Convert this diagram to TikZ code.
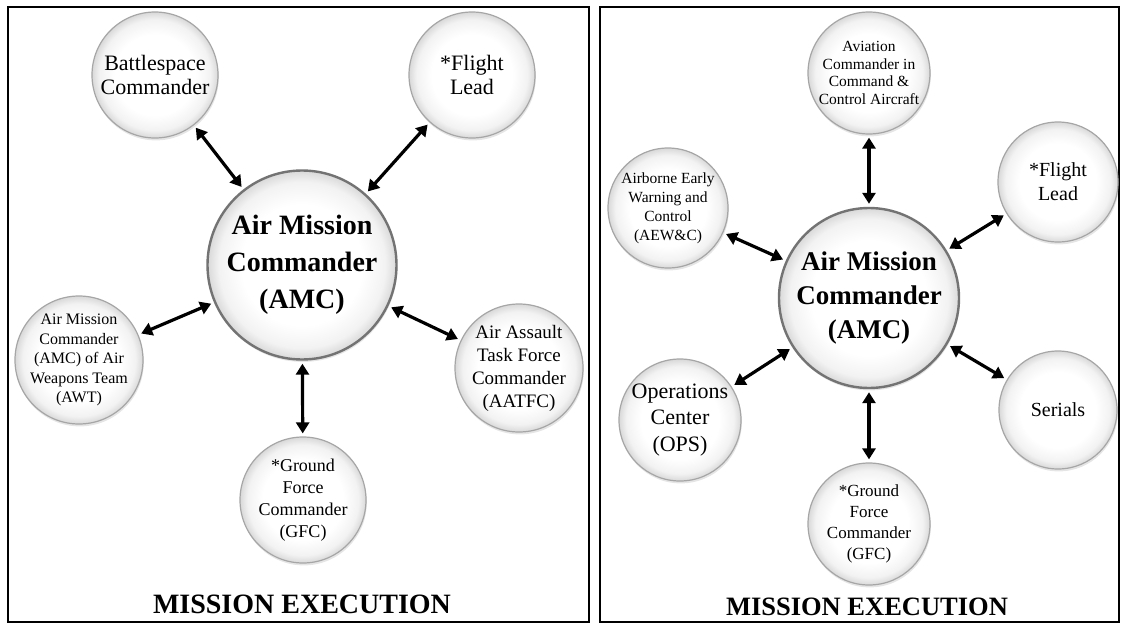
\documentclass[tikz,border=0pt]{standalone}
\usepackage{fontspec}
\setmainfont{Liberation Serif}
\usetikzlibrary{arrows.meta,shadows}
\pgfdeclareradialshading{ball}{\pgfpoint{0bp}{0bp}}{color(0bp)=(white); color(16bp)=(white); color(22bp)=(black!5); color(25bp)=(black!15); color(50bp)=(black!15)}
\tikzset{
  bubble/.style={circle, draw=black!35, line width=1.2pt, shading=ball, inner sep=0pt, minimum size=#1,
    drop shadow={opacity=0.2, shadow xshift=0.8pt, shadow yshift=-2.4pt}},
  bigbubble/.style={bubble=#1, draw=black!55, line width=2.4pt},
  conn/.style={{Triangle[length=11pt,width=13pt]}-{Triangle[length=11pt,width=13pt]}, line width=3.2pt, shorten >=3pt, shorten <=3pt},
  frame/.style={draw=black, line width=2.6pt},
  title/.style={anchor=base, inner sep=0pt, font=\bfseries\fontsize{#1}{#1}\selectfont}
}
\begin{document}
\begin{tikzpicture}[x=1pt,y=-1pt]
\useasboundingbox (0,0) rectangle (1122,624);
\fill[white] (0,0) rectangle (1122,624);
% ---------- left panel ----------
\draw[frame] (8,7) rectangle (589,622);
\node[bigbubble=189] (amc) at (302,265) {};
\node[align=center, inner sep=0pt, font=\bfseries\fontsize{28}{37}\selectfont] (amct) at (amc) {Air Mission\\Commander\\(AMC)};
\node[bubble=126] (bs) at (155,75) {};
\node[align=center, inner sep=0pt, font=\fontsize{22}{24}\selectfont] (bst) at (bs) {Battlespace\\Commander};
\node[bubble=126] (fl) at (472,75) {};
\node[align=center, inner sep=0pt, font=\fontsize{22}{24}\selectfont] (flt) at (fl) {*Flight\\Lead};
\node[bubble=128] (awt) at (79,360) {};
\node[align=center, inner sep=0pt, font=\fontsize{16}{19.5}\selectfont] (awtt) at (awt) {Air Mission\\Commander\\(AMC) of Air\\Weapons Team\\(AWT)};
\node[bubble=128] (aatfc) at (519,368) {};
\node[align=center, inner sep=0pt, font=\fontsize{19}{23}\selectfont] (aatfct) at (aatfc) {Air Assault\\Task Force\\Commander\\(AATFC)};
\node[bubble=126] (gfc) at (303,500) {};
\node[align=center, inner sep=0pt, font=\fontsize{18}{22}\selectfont] (gfct) at (gfc) {*Ground\\Force\\Commander\\(GFC)};
\draw[conn] (bs) -- (amc);
\draw[conn] (fl) -- (amc);
\draw[conn] (awt) -- (amc);
\draw[conn] (aatfc) -- (amc);
\draw[conn] (gfc) -- (amc);
\node[title=28] (t1) at (302,613) {MISSION EXECUTION};
% ---------- right panel ----------
\draw[frame] (600,7) rectangle (1119,622);
\node[bigbubble=180] (amc2) at (869,298) {};
\node[align=center, inner sep=0pt, font=\bfseries\fontsize{27}{34}\selectfont] (amc2t) at (amc2) {Air Mission\\Commander\\(AMC)};
\node[bubble=122] (avi) at (869,73) {};
\node[align=center, inner sep=0pt, font=\fontsize{15.5}{17.5}\selectfont] (avit) at (avi) {Aviation\\Commander in\\Command \&\\Control Aircraft};
\node[bubble=120] (aew) at (668,208) {};
\node[align=center, inner sep=0pt, font=\fontsize{15.5}{19}\selectfont] (aewt) at (aew) {Airborne Early\\Warning and\\Control\\(AEW\&C)};
\node[bubble=120] (fl2) at (1058,182) {};
\node[align=center, inner sep=0pt, font=\fontsize{20}{24}\selectfont] (fl2t) at (fl2) {*Flight\\Lead};
\node[bubble=118] (ser) at (1058,410) {};
\node[align=center, inner sep=0pt, font=\fontsize{20}{24}\selectfont] (sert) at (ser) {Serials};
\node[bubble=122] (ops) at (680,420) {};
\node[align=center, inner sep=0pt, font=\fontsize{22}{26.5}\selectfont] (opst) at (ops) {Operations\\Center\\(OPS)};
\node[bubble=122] (gfc2) at (869,524) {};
\node[align=center, inner sep=0pt, font=\fontsize{17}{21}\selectfont] (gfc2t) at (gfc2) {*Ground\\Force\\Commander\\(GFC)};
\draw[conn] (avi) -- (amc2);
\draw[conn] (aew) -- (amc2);
\draw[conn] (fl2) -- (amc2);
\draw[conn] (ser) -- (amc2);
\draw[conn] (ops) -- (amc2);
\draw[conn] (gfc2) -- (amc2);
\node[title=26.5] (t2) at (867,615) {MISSION EXECUTION};
\end{tikzpicture}
\end{document}
